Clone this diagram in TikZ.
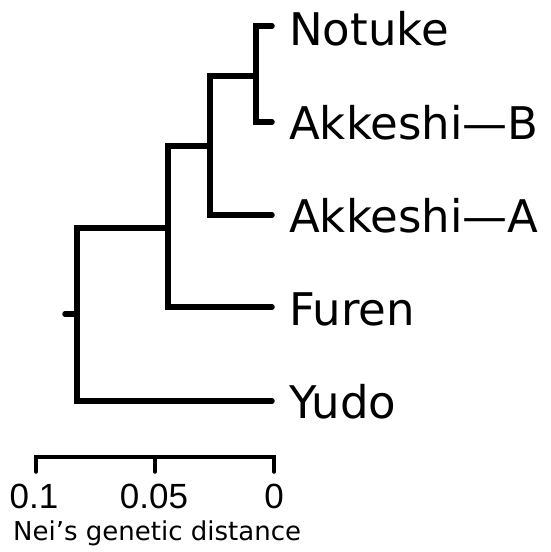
\documentclass[tikz,border=0pt]{standalone}
\usepackage{fontspec}
\setmainfont{DejaVu Sans}
\newfontfamily\numfont{Liberation Sans}
\begin{document}
\begin{tikzpicture}[x=1pt,y=-1pt,
  branch/.style={line width=5.5pt,line cap=round,line join=miter},
  scalebar/.style={line width=3.5pt,line cap=round},
  taxon/.style={anchor=base west,inner sep=0pt,font=\fontsize{45}{45}\selectfont},
  ticklabel/.style={anchor=base,inner sep=0pt,font=\numfont\fontsize{35}{35}\selectfont},
  axislabel/.style={anchor=base west,inner sep=0pt,font=\fontsize{26}{26}\selectfont}]
\useasboundingbox (0,0) rectangle (550,552);

% leaf tips
\coordinate (tNotuke) at (272,26);
\coordinate (tAkkB)   at (272,122);
\coordinate (tAkkA)   at (272,215);
\coordinate (tFuren)  at (272,307);
\coordinate (tYudo)   at (272,401);

% internal nodes (vertical bars)
\coordinate (n1) at (256,76);
\coordinate (n2) at (210,146);
\coordinate (n3) at (168,228);
\coordinate (root) at (77,314);
\coordinate (rootstub) at (65,314);

% branches
\draw[branch] (tNotuke) -| (n1) |- (tAkkB);
\draw[branch] (n1) -| (n2) |- (tAkkA);
\draw[branch] (n2) -| (n3) |- (tFuren);
\draw[branch] (n3) -| (root) |- (tYudo);
\draw[branch] (rootstub) -- (root);

% taxon labels
\node[taxon] (lNotuke) at (289,45)  {Notuke};
\node[taxon] (lAkkB)   at (289,139) {Akkeshi—B};
\node[taxon] (lAkkA)   at (289,232) {Akkeshi—A};
\node[taxon] (lFuren)  at (289,325) {Furen};
\node[taxon] (lYudo)   at (289,418) {Yudo};

% distance scale
\coordinate (s10) at (36,472);
\coordinate (s05) at (155,472);
\coordinate (s00) at (274,472);
\draw[scalebar] (s10) |- (s00 |- 0,457) -- (s00);
\draw[scalebar] (s05) -- (155,457);

\node[ticklabel] (l10) at (34,508)  {0.1};
\node[ticklabel] (l05) at (154,508) {0.05};
\node[ticklabel] (l00) at (274,508) {0};
\node[axislabel] (axis) at (13,540) {Nei’s genetic distance};
\end{tikzpicture}
\end{document}
